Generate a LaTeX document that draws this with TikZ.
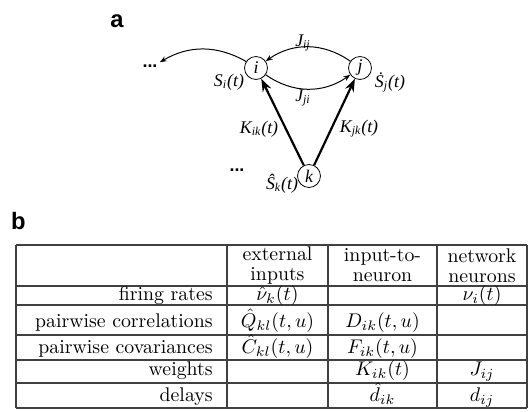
\documentclass[tikz,border=0pt]{standalone}
\usepackage{fontspec}
\newfontfamily\tmsfont{Liberation Serif}
\newfontfamily\arialfont{Liberation Sans}
\usetikzlibrary{positioning, arrows.meta}

\begin{document}
\begin{tikzpicture}[
    x=0.505pt, y=-0.505pt,
    % Styles
    neuron/.style={draw, circle, inner sep=0pt, minimum size=11.6pt, font=\tmsfont\itshape\small},
    lbl/.style={font=\tmsfont\itshape\small, inner sep=1pt},
    panel/.style={font=\arialfont\bfseries\large, inner sep=0pt},
    dotsbox/.style={font=\arialfont\bfseries\small, inner sep=1pt},
    coupling/.style={-{Stealth[length=3.5pt, width=2.6pt]}, line width=0.5pt},
    drive/.style={-{Stealth[length=6.5pt, width=4.6pt]}, line width=1.1pt},
    gridline/.style={draw=black!75, line width=0.6pt},
    rowlbl/.style={anchor=base east, inner sep=0pt},
    cell/.style={anchor=base, inner sep=0pt},
    head/.style={align=center, inner sep=0pt}
    ]
    \useasboundingbox (0,0) rectangle (530,412);

    % a. Network sketch
    \node (pa) [panel] at (117,21) {a};
    \node (i) [neuron] at (256,68) {i};
    \node (j) [neuron] at (360,68) {j};
    \node (k) [neuron] at (309,176) {k};
    \node (dotsL) [dotsbox] at (150,66) {...};
    \node (dotsK) [dotsbox] at (237,170) {...};

    \node (Si) [lbl] at (229,82) {S\textsubscript{i}(t)};
    \node (Sj) [lbl] at (390,82) {\.{S}\textsubscript{j}(t)};
    \node (Sk) [lbl] at (282,184) {\^{S}\textsubscript{k}(t)};
    \node (Jij) [lbl] at (303,43) {J\textsubscript{ij}};
    \node (Jji) [lbl] at (303,98) {J\textsubscript{ji}};
    \node (Kik) [lbl] at (259,129) {K\textsubscript{ik}(t)};
    \node (Kjk) [lbl] at (359,129) {K\textsubscript{jk}(t)};

    \draw[coupling] (j) to[bend right=35] (i);
    \draw[coupling] (i) to[bend right=35] (j);
    \draw[coupling] (i) to[bend right=30] (dotsL.north east);
    \draw[drive] (k) -- (i);
    \draw[drive] (k) -- (j);

    % b. Table of quantities
    \node (pb) [panel] at (18.5,221.5) {b};
    \foreach \y in {245,286,305,335,360,383,408}
        \draw[gridline] (16,\y) -- (527,\y);
    \foreach \x in {16,227,328,437,527}
        \draw[gridline] (\x,245) -- (\x,408);

    \node (hExt) [head] at (277.5,265.5) {external\\[-2pt]inputs};
    \node (hIn) [head] at (382.5,265.5) {input-to-\\[-2pt]neuron};
    \node (hNet) [head] at (482,265.5) {network\\[-2pt]neurons};

    \node (rRate) [rowlbl] at (213,301) {firing rates};
    \node (rCorr) [rowlbl] at (213,328) {pairwise correlations};
    \node (rCov) [rowlbl] at (213,353.5) {pairwise covariances};
    \node (rW) [rowlbl] at (213,375.5) {weights};
    \node (rD) [rowlbl] at (213,402) {delays};

    \node (cRateExt) [cell] at (277.5,301) {$\hat\nu_k(t)$};
    \node (cRateNet) [cell] at (482,301) {$\nu_i(t)$};
    \node (cCorrExt) [cell] at (277.5,328) {$\hat Q_{kl}(t,u)$};
    \node (cCorrIn) [cell] at (382.5,328) {$D_{ik}(t,u)$};
    \node (cCovExt) [cell] at (277.5,353.5) {$\hat C_{kl}(t,u)$};
    \node (cCovIn) [cell] at (382.5,353.5) {$F_{ik}(t,u)$};
    \node (cWIn) [cell] at (382.5,375.5) {$K_{ik}(t)$};
    \node (cWNet) [cell] at (482,375.5) {$J_{ij}$};
    \node (cDIn) [cell] at (382.5,402) {$\hat d_{ik}$};
    \node (cDNet) [cell] at (482,402) {$d_{ij}$};
\end{tikzpicture}
\end{document}
